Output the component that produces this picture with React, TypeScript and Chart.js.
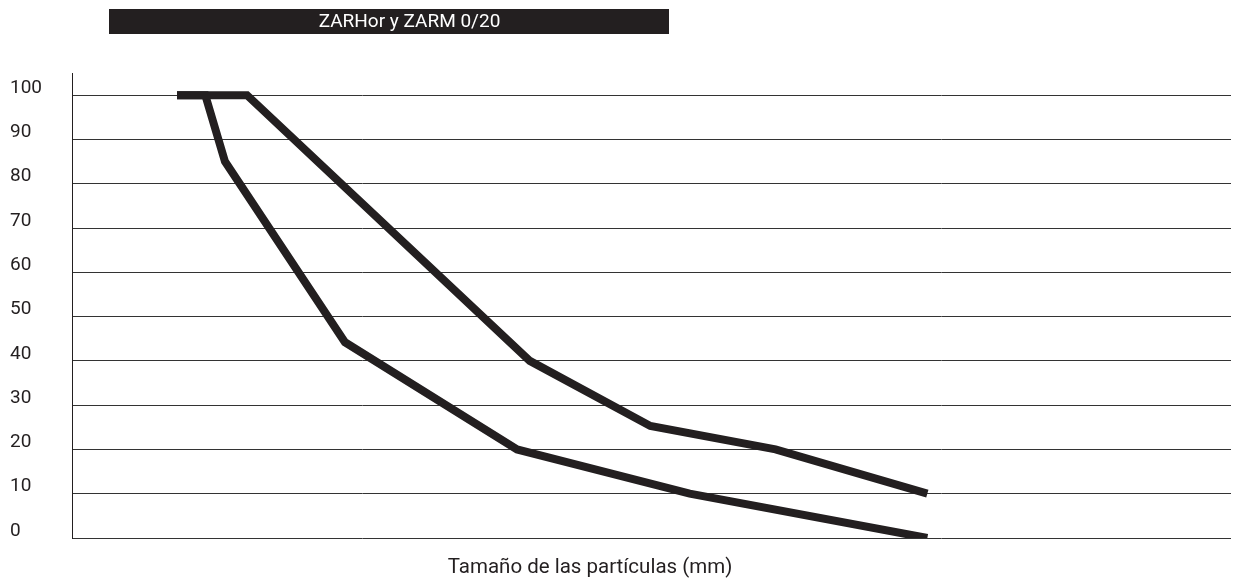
import React, { useEffect, useRef } from 'react';
import { Chart, registerables } from 'chart.js';

Chart.register(...registerables);

// ---- Data ----
const chartTitle = 'ZARHor y ZARM 0/20';
const axisTitle = 'Tamaño de las partículas (mm)';
const yTickValues = [0, 10, 20, 30, 40, 50, 60, 70, 80, 90, 100];

// Position along the (unlabelled) particle-size axis, 0..100
const upperSize = [9.06, 15.1, 39.5, 49.9, 60.7, 73.8];
const upperPass = [100, 100, 40, 25.3, 20, 10];

const lowerSize = [9.06, 11.5, 13.2, 23.55, 38.4, 53.3, 73.8];
const lowerPass = [100, 100, 85, 44.2, 20, 10, 0];

const INK = '#231f20';

const decorPlugin = {
  id: 'decor',
  afterDraw(chart: any) {
    const ctx = chart.ctx as CanvasRenderingContext2D;
    ctx.save();
    // title banner
    ctx.fillStyle = INK;
    ctx.fillRect(109, 9, 560, 25);
    ctx.fillStyle = '#ffffff';
    ctx.font = '19px Roboto';
    ctx.textAlign = 'center';
    ctx.textBaseline = 'middle';
    ctx.fillText(chartTitle, 409.5, 22);
    // x axis title
    ctx.fillStyle = INK;
    ctx.font = '20.5px Roboto';
    ctx.fillText(axisTitle, 590, 568);
    ctx.restore();
  },
};

export default function App() {
  const canvasRef = useRef<HTMLCanvasElement | null>(null);

  useEffect(() => {
    const canvas = canvasRef.current;
    if (!canvas) return;
    const toPoints = (xs: number[], ys: number[]) => xs.map((x, i) => ({ x, y: ys[i] }));
    const lineStyle = {
      borderColor: INK,
      backgroundColor: INK,
      borderWidth: 8,
      pointRadius: 0,
      pointHoverRadius: 0,
      tension: 0,
      fill: false,
      borderCapStyle: 'butt' as const,
      borderJoinStyle: 'miter' as const,
    };
    const chart = new Chart(canvas, {
      type: 'line',
      data: {
        datasets: [
          { label: 'Límite superior', data: toPoints(upperSize, upperPass), ...lineStyle },
          { label: 'Límite inferior', data: toPoints(lowerSize, lowerPass), ...lineStyle },
        ],
      },
      plugins: [decorPlugin],
      options: {
        animation: false,
        responsive: false,
        devicePixelRatio: 1,
        layout: { padding: { left: 10, right: 10, top: 73, bottom: 47 } },
        plugins: {
          legend: { display: false },
          tooltip: { enabled: false },
          title: { display: false },
        },
        scales: {
          x: {
            type: 'linear',
            min: 0,
            max: 100,
            display: false,
          },
          y: {
            type: 'linear',
            min: 0,
            max: 105,
            afterFit: (scale: any) => {
              scale.width = 62;
            },
            afterBuildTicks: (scale: any) => {
              scale.ticks = yTickValues.map((v) => ({ value: v }));
            },
            ticks: {
              includeBounds: false,
              stepSize: 10,
              crossAlign: 'far',
              labelOffset: -7,
              padding: 0,
              color: INK,
              font: { family: 'Roboto', size: 19 },
            },
            grid: {
              color: '#333333',
              lineWidth: 1,
              drawTicks: false,
              tickLength: 0,
            },
            border: { display: true, color: INK, width: 1 },
          },
        },
      },
    });
    return () => chart.destroy();
  }, []);

  return (
    <div style={{ position: 'absolute', left: 0, top: 0, width: 1241, height: 585, background: '#fff' }}>
      <canvas ref={canvasRef} width={1241} height={585} />
    </div>
  );
}
